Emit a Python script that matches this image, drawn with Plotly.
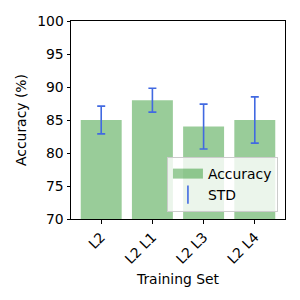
import plotly.graph_objects as go

categories = ["L2", "L2 L1", "L2 L3", "L2 L4"]
accuracy = [85.0, 88.0, 84.0, 85.0]
std = [2.1, 1.8, 3.4, 3.5]
y_ticks = [70, 75, 80, 85, 90, 95, 100]

FONT = "DejaVu Sans"
FS = 13.9
BAR_COLOR = "rgba(0,128,0,0.4)"
ERR_COLOR = "royalblue"

fig = go.Figure()
fig.add_trace(go.Bar(
    x=categories, y=accuracy, name="Accuracy", showlegend=False,
    marker=dict(color=BAR_COLOR, line=dict(width=0)),
))
fig.add_trace(go.Scatter(
    x=categories, y=accuracy, mode="markers", showlegend=False,
    marker=dict(size=1, opacity=0),
    error_y=dict(type="data", array=std, visible=True, color=ERR_COLOR,
                 thickness=1.6, width=4),
))
# legend entries
fig.add_trace(go.Scatter(
    x=[None], y=[None], mode="lines", name="Accuracy",
    line=dict(color=BAR_COLOR, width=10),
))
fig.add_trace(go.Scatter(
    x=[None], y=[None], mode="markers", name="STD",
    marker=dict(symbol="line-ns-open", size=13, color=ERR_COLOR,
                line=dict(width=1.6, color=ERR_COLOR)),
))

axis_common = dict(showline=True, linecolor="black", linewidth=1, mirror=True,
                   ticks="outside", ticklen=3.5, tickcolor="black", showgrid=False,
                   zeroline=False, automargin=False,
                   tickfont=dict(family=FONT, size=FS, color="black"))
fig.update_layout(
    width=300, height=300,
    margin=dict(l=71, r=15, t=21, b=81),
    plot_bgcolor="white", paper_bgcolor="white",
    bargap=0.2,
    font=dict(family=FONT, size=FS, color="black"),
    xaxis=dict(range=[-0.59, 3.59], tickangle=-45,
               title=dict(text="Training Set", font=dict(family=FONT, size=FS), standoff=8),
               **axis_common),
    yaxis=dict(range=[70, 100], tickvals=y_ticks,
               title=dict(text="Accuracy (%)", font=dict(family=FONT, size=FS), standoff=7),
               **axis_common),
    legend=dict(x=0.967, y=0.035, xanchor="right", yanchor="bottom",
                bgcolor="rgba(255,255,255,0.8)", bordercolor="#cccccc", borderwidth=1,
                font=dict(family=FONT, size=FS), tracegroupgap=0, itemwidth=30),
    showlegend=True,
)
fig.write_html("out.html", config={"displayModeBar": False},
               post_script="document.body.style.margin='0px';document.body.style.padding='0px';")
